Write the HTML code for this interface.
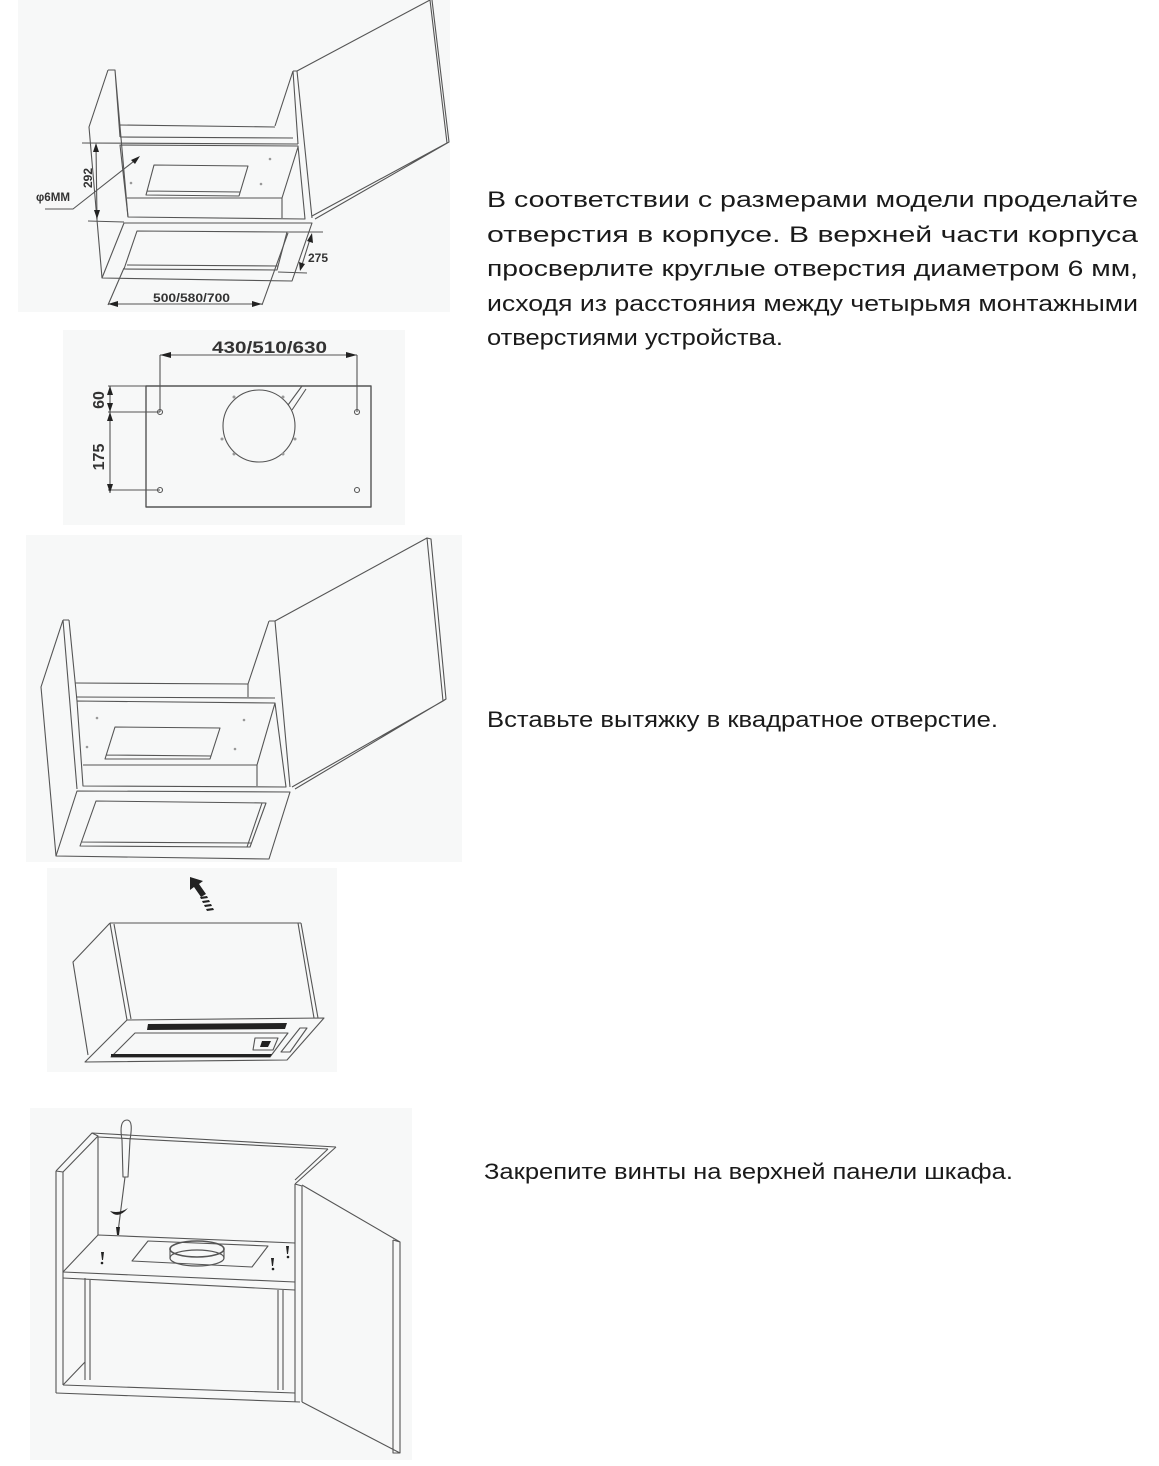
<!DOCTYPE html>
<html><head><meta charset="utf-8"><style>
html,body{margin:0;padding:0;background:#fff;}
svg{display:block}
</style></head><body>
<svg width="1159" height="1466" viewBox="0 0 1159 1466" xmlns="http://www.w3.org/2000/svg">
<g fill="#f7f8f8">
<rect x="18" y="0" width="432" height="312"/>
<rect x="63" y="330" width="342" height="195"/>
<rect x="26" y="535" width="436" height="327"/>
<rect x="47" y="868" width="290" height="204"/>
<rect x="30" y="1108" width="382" height="352"/>
</g>
<g fill="none" stroke="#555" stroke-width="1.1" stroke-linejoin="round">
<path d="M108,70 L115,70 L128,217 M108,70 L89,127 L102,278 M115,70 L120,137"/>
<path d="M119,125 L275,127 M120,137 L293,138 M293,71 L297,71 M293,71 L275,126 M297,71 L312,218 M293,71 L298,144"/>
<path d="M297,71 L430,0 L447,143 L312,216 M432,0 L449,142 L315,219"/>
<path d="M120,145 L298,146 L305,219 L128,217 Z M298,147 L282,198 L282,218 M127,198 L282,198"/>
<path d="M154,165 L248,166 L239,196 L146,195 Z M147,191 L240,192"/>
<path d="M124,223 L312,223 L292,281 L102,278 Z M137,231 L287,232 L277,270 L124,269 Z M127,265 L278,266"/>
<path d="M82,143 L298,144 M88,221 L124,222 M96,145 L97,219"/>
<path d="M45,209 L73,209 L138,158"/>
<path d="M287,232 L323,232 M278,272 L307,273 M311,236 L301,268"/>
<path d="M108,304 L262,304 M108,305 L124,268 M262,305 L288,233"/>
<rect x="146" y="386" width="225" height="121" stroke-width="1.4"/>
<path d="M160,355 L357,355 M160,355 L160,412 M357,355 L357,412"/>
<path d="M110,386 L110,493 M108,386 L146,386 M108,412 L160,412 M108,490 L160,490"/>
<circle cx="259" cy="426" r="36"/>
<path d="M288,405 L302,386 M292,410 L306,389"/>
<circle cx="160" cy="412" r="2.5"/><circle cx="357" cy="412" r="2.5"/>
<circle cx="160" cy="490" r="2.5"/><circle cx="357" cy="490" r="2.5"/>
<path d="M63,620 L69,620 M63,620 L41,687 L56,856 M69,620 L77,701 M63,620 L77,789"/>
<path d="M75,683 L248,684 M76,697 L275,698 M269,621 L275,621 M269,621 L248,684 L248,697 M275,621 L290,787"/>
<path d="M275,621 L427,538 L443,701 L292,787 M427,538 L431,539 L446,699 L443,701 M446,699 L295,789"/>
<path d="M77,701 L275,703 L286,787 L83,786 Z M275,703 L257,765 L257,786 M83,765 L257,765"/>
<path d="M115,727 L220,728 L210,759 L105,759 Z M106,755 L211,756"/>
<path d="M77,791 L290,792 L269,859 L56,856 Z M96,801 L266,803 L250,847 L80,846 Z M82,842 L252,843 M262,803 L247,847"/>
<path d="M110,923 L301,923 M110,923 L73,962 L88,1055 M110,923 L127,1020 M114,924 L131,1019 M301,923 L318,1018 M298,923 L314,1018"/>
<path d="M127,1020 L324,1018 L287,1060 L85,1062 L127,1020"/>
<path d="M135,1033 L288,1033 L270,1057 L111,1057 Z M255,1038 L278,1038 L273,1050 L253,1050 Z M300,1028 L307,1028 L290,1052 L281,1052 Z"/>
<path d="M56,1171 L92,1133 L98,1136 L63,1172 M56,1171 L63,1172 M56,1171 L56,1393 M63,1172 L63,1385 M98,1137 L98,1235"/>
<path d="M92,1133 L336,1147 M98,1137 L328,1149 M336,1147 L295,1184 M328,1149 L295,1180 M295,1184 L295,1402 M302,1186 L302,1402 M295,1184 L302,1186"/>
<path d="M98,1235 L295,1243 M63,1272 L295,1282 M63,1272 L98,1235 M63,1278 L295,1290"/>
<path d="M85,1278 L85,1380 M90,1280 L90,1380 M278,1290 L278,1390 M283,1290 L283,1390 M63,1385 L295,1393 M56,1393 L300,1402 M63,1385 L85,1362"/>
<path d="M302,1185 L400,1242 L400,1453 L302,1402 M393,1240 L400,1242 M393,1240 L393,1453 L400,1453"/>
<path d="M148,1241 L268,1246 L252,1267 L132,1261 Z"/>
<ellipse cx="197" cy="1249" rx="27" ry="8" stroke-width="1.6"/>
<path d="M170,1249 L170,1258 M224,1249 L224,1258"/>
<ellipse cx="197" cy="1258" rx="27" ry="8" stroke-width="1.2"/>
<path d="M127,1120 C121,1120 120,1128 122,1140 L123,1177 L128,1177 L130,1140 C132,1128 132,1120 127,1120 Z M125,1177 L118,1232"/>
</g>
<g fill="#999">
<circle cx="270" cy="159" r="1.3"/><circle cx="131" cy="183" r="1.3"/><circle cx="261" cy="184" r="1.3"/>
<circle cx="97" cy="718" r="1.3"/><circle cx="244" cy="720" r="1.3"/><circle cx="87" cy="747" r="1.3"/><circle cx="235" cy="749" r="1.3"/>
<circle cx="234" cy="397" r="1.5"/><circle cx="283" cy="397" r="1.5"/><circle cx="222" cy="439" r="1.5"/><circle cx="295" cy="439" r="1.5"/><circle cx="234" cy="454" r="1.5"/><circle cx="283" cy="454" r="1.5"/>
</g>
<g fill="#222">
<path d="M96,143 L93,152 L99,152 Z M97,219 L94,210 L100,210 Z"/>
<path d="M140,156 L131,160 L135,164 Z"/>
<path d="M160,355 L171,352 L171,358 Z M357,355 L346,352 L346,358 Z"/>
<path d="M110,386 L107,395 L113,395 Z M110,412 L107,403 L113,403 Z M110,412 L107,421 L113,421 Z M110,493 L107,484 L113,484 Z"/>
<path d="M312,233 L307,241 L313,243 Z M300,271 L299,262 L305,264 Z"/>
<path d="M108,304 L118,301 L118,307 Z M262,304 L252,301 L252,307 Z"/>
<path d="M190,877 L203,881 L199,884 L206,894 L201,897 L194,887 L190,890 Z"/>
<path d="M200,897 L207,896 L208,898 L201,899 Z M202,901 L209,900 L210,902 L203,903 Z M204,905 L211,904 L212,906 L205,907 Z M206,909 L213,908 L214,910 L207,911 Z"/>
<path d="M148,1024 L287,1023 L285,1029 L147,1030 Z"/>
<path d="M111,1054 L272,1054 L270,1057 L111,1057 Z"/>
<path d="M262,1041 L271,1041 L268,1047 L260,1047 Z"/>
<path d="M110,1211 Q118,1220 128,1208 Q119,1214 110,1211 Z"/>
<path d="M116,1227 L120,1227 L119,1235 L117,1235 Z M101,1252 L104,1252 L103,1260 L102,1260 Z M271,1258 L274,1258 L273,1266 L272,1266 Z M286,1246 L289,1246 L288,1254 L287,1254 Z"/>
<circle cx="102" cy="1263" r="1.3"/><circle cx="273" cy="1269" r="1.3"/><circle cx="288" cy="1257" r="1.3"/>
</g>
<g font-family="'Liberation Sans', sans-serif" font-weight="bold" fill="#333">
<text x="36" y="201" font-size="12" textLength="34" lengthAdjust="spacingAndGlyphs">φ6MM</text>
<text transform="translate(92,178) rotate(-90)" font-size="12" text-anchor="middle">292</text>
<text x="308" y="262" font-size="12">275</text>
<text x="153" y="302" font-size="12" textLength="77" lengthAdjust="spacingAndGlyphs">500/580/700</text>
<text x="212" y="353" font-size="17" textLength="115" lengthAdjust="spacingAndGlyphs">430/510/630</text>
<text transform="translate(104,400) rotate(-90)" font-size="16" text-anchor="middle">60</text>
<text transform="translate(104,457) rotate(-90)" font-size="16" text-anchor="middle">175</text>
</g>
<g font-family="'Liberation Sans', 'Noto Sans CJK SC', sans-serif" font-size="22" fill="#1a1a1a">
<text x="487" y="207" textLength="651" lengthAdjust="spacingAndGlyphs">В соответствии с размерами модели проделайте</text>
<text x="487" y="242" textLength="651" lengthAdjust="spacingAndGlyphs">отверстия в корпусе. В верхней части корпуса</text>
<text x="487" y="276" textLength="651" lengthAdjust="spacingAndGlyphs">просверлите круглые отверстия диаметром 6 мм,</text>
<text x="487" y="311" textLength="651" lengthAdjust="spacingAndGlyphs">исходя из расстояния между четырьмя монтажными</text>
<text x="487" y="345" textLength="296" lengthAdjust="spacingAndGlyphs">отверстиями устройства.</text>
<text x="487" y="727" textLength="511" lengthAdjust="spacingAndGlyphs">Вставьте вытяжку в квадратное отверстие.</text>
<text x="484" y="1179" textLength="529" lengthAdjust="spacingAndGlyphs">Закрепите винты на верхней панели шкафа.</text>
</g>
</svg>
</body></html>
